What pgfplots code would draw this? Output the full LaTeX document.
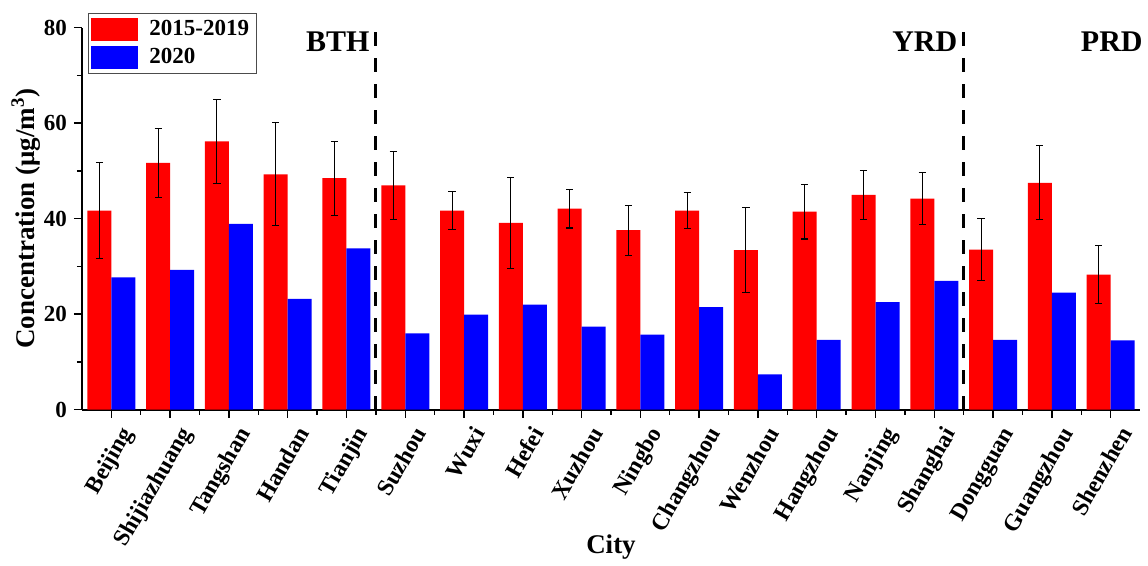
\documentclass[border=0pt]{standalone}
\usepackage{fontspec}
\setmainfont{Liberation Serif}
\usepackage{pgfplots}
\usepackage{pgfplotstable}
\usetikzlibrary{calc}
\pgfplotsset{compat=1.18}
\pgfplotstableread{
x r e b
1 41.7 10.1 27.7
2 51.7 7.25 29.3
3 56.2 8.85 38.9
4 49.3 10.8 23.2
5 48.5 7.75 33.8
6 47.0 7.15 16.0
7 41.7 4.05 19.9
8 39.1 9.5 22.0
9 42.1 4.05 17.4
10 37.6 5.25 15.7
11 41.7 3.8 21.5
12 33.4 8.85 7.4
13 41.5 5.75 14.6
14 45.0 5.15 22.5
15 44.2 5.45 27.0
16 33.5 6.45 14.6
17 47.5 7.75 24.5
18 28.3 6.05 14.5
}\data
\begin{document}
\begin{tikzpicture}
\begin{axis}[
  name=ax,
  scale only axis, width=529pt, height=191pt,
  xmin=0.5, xmax=18.5, ymin=0, ymax=80,
  axis x line*=bottom, axis y line*=left,
  axis line style={-, line width=0.9pt},
  ybar=0pt, bar width=12pt,
  xtick={1,...,18},
  xticklabels={Beijing,Shijiazhuang,Tangshan,Handan,Tianjin,Suzhou,Wuxi,Hefei,Xuzhou,Ningbo,Changzhou,Wenzhou,Hangzhou,Nanjing,Shanghai,Dongguan,Guangzhou,Shenzhen},
  minor x tick num=1,
  ytick={0,20,40,60,80}, minor y tick num=1,
  tick align=outside,
  major tick length=4pt, minor tick length=2.5pt,
  tick style={black, line width=0.7pt},
  x tick label style={rotate=60, anchor=north east, yshift=-4pt, inner sep=1pt, font=\fontsize{11.8}{11.8}\selectfont\bfseries},
  y tick label style={font=\fontsize{11.5}{11.5}\selectfont\bfseries},
  /pgf/number format/assume math mode=true,
  ylabel={\bfseries Concentration (μg/m\textsuperscript{3})},
  xlabel={\bfseries City},
  label style={font=\fontsize{13.5}{13.5}\selectfont},
  ylabel style={yshift=-5pt},
  xlabel style={at={(rel axis cs:0.5,0)}, anchor=north, yshift=-59pt},
  clip=false,
  legend style={at={(rel axis cs:0,1)}, anchor=north west, xshift=3pt, yshift=7.5pt,
    draw=black!70, line width=0.5pt, font=\fontsize{11.5}{13}\selectfont\bfseries,
    inner sep=1.5pt, row sep=1pt, column sep=3.5pt},
  legend cell align=left,
  legend image code/.code={\fill[#1] (0pt,-5.75pt) rectangle (23.5pt,5.75pt);},
]
\addplot[fill={rgb,255:red,255;green,0;blue,0}, draw=none,
  error bars/.cd, y dir=both, y explicit,
  error bar style={black, line width=0.55pt},
  error mark options={rotate=90, mark size=1.8pt, black, line width=0.55pt}]
  table[x=x, y=r, y error=e]{\data};
\addplot[fill={rgb,255:red,0;green,0;blue,255}, draw=none]
  table[x=x, y=b]{\data};
\legend{2015-2019, 2020}
\draw[black, line width=1.5pt, dash pattern=on 7pt off 6pt] (axis cs:5.5,0) -- (axis cs:5.5,80);
\draw[black, line width=1.5pt, dash pattern=on 7pt off 6pt] (axis cs:15.5,0) -- (axis cs:15.5,80);
\node[anchor=east, font=\fontsize{15}{15}\selectfont\bfseries, inner sep=0pt, xshift=-3pt] at (axis cs:5.5,77) {BTH};
\node[anchor=east, font=\fontsize{15}{15}\selectfont\bfseries, inner sep=0pt, xshift=-3pt] at (axis cs:15.5,77) {YRD};
\node[anchor=east, font=\fontsize{15}{15}\selectfont\bfseries, inner sep=0pt, xshift=1.5pt] at (axis cs:18.5,77) {PRD};
\end{axis}
\path ($(ax.south west)+(-41pt,-74.75pt)$) rectangle ($(ax.north east)+(4pt,13.85pt)$);
\end{tikzpicture}
\end{document}
